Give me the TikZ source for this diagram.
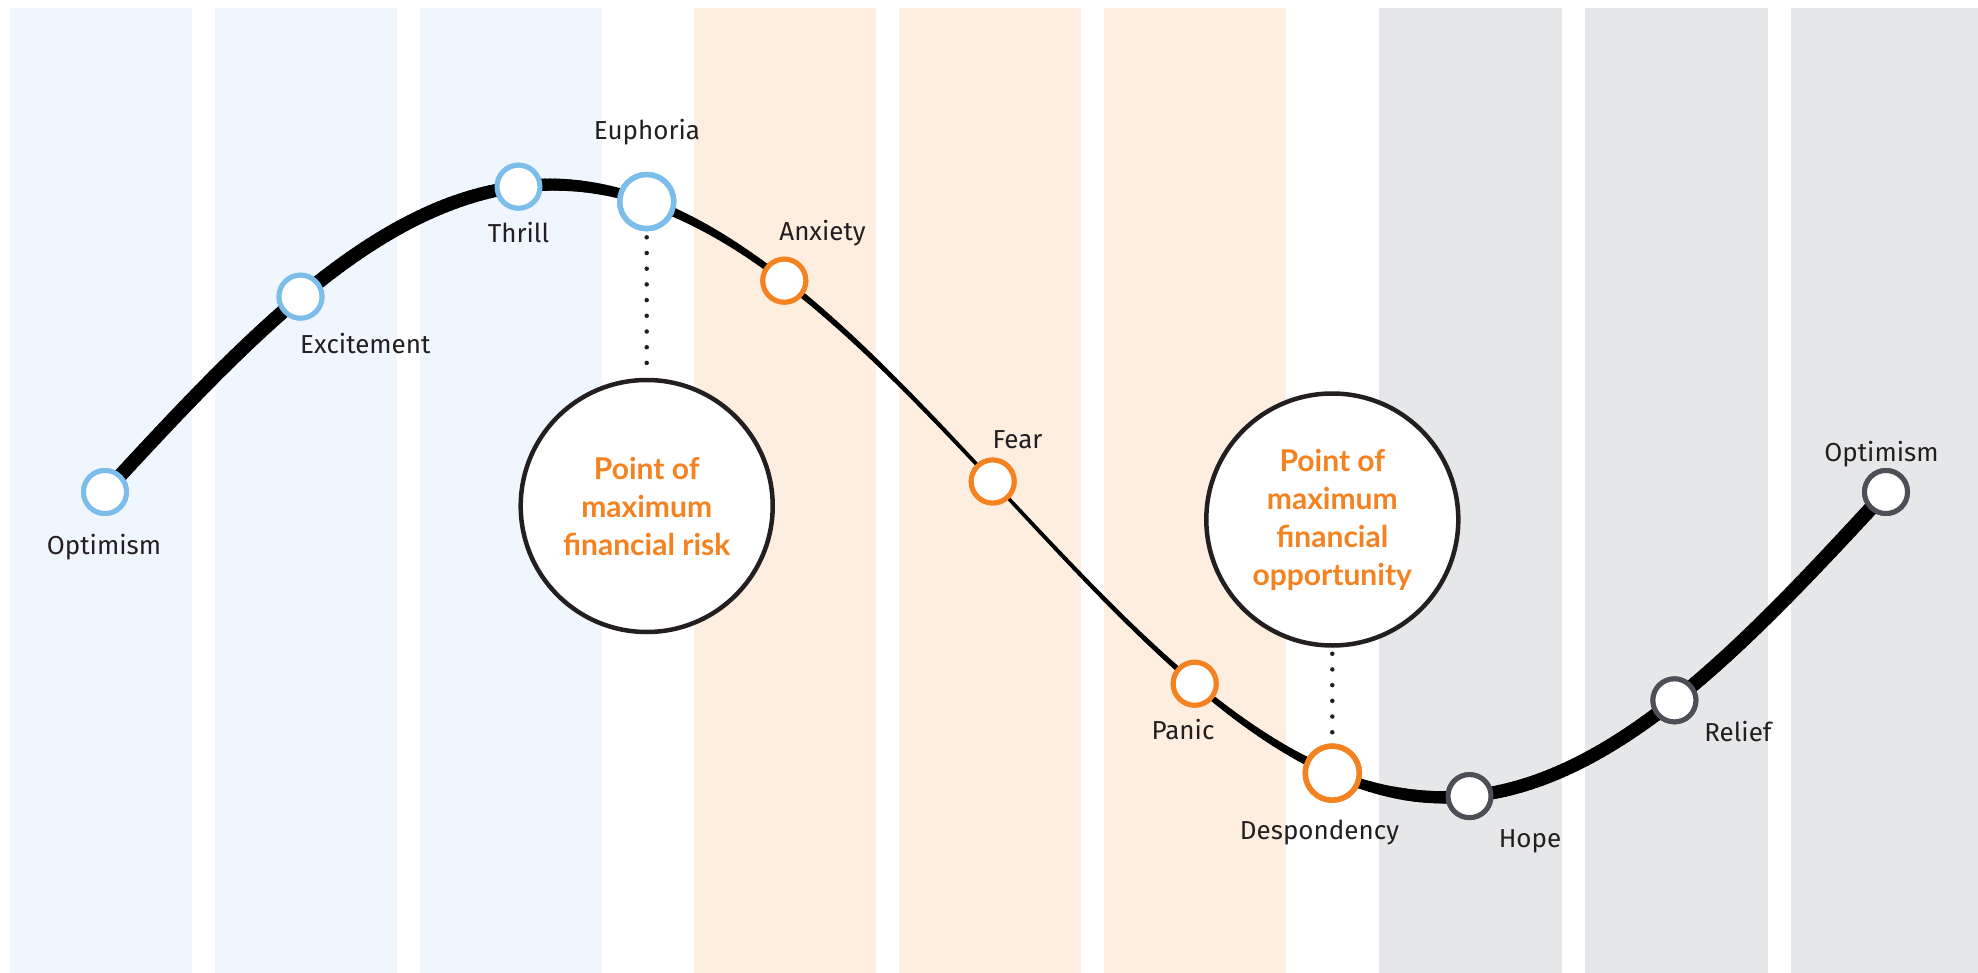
\documentclass[tikz,border=0pt]{standalone}
\usepackage{fontspec}
\setmainfont{Fira Sans}
\newfontfamily\latofont{Lato}
\definecolor{bandblue}{RGB}{240,246,254}
\definecolor{bandorange}{RGB}{253,238,224}
\definecolor{bandgray}{RGB}{230,231,233}
\definecolor{blueC}{RGB}{124,189,233}
\definecolor{orangeC}{RGB}{245,130,32}
\definecolor{grayC}{RGB}{77,79,87}
\definecolor{ink}{RGB}{35,31,32}
\begin{document}
\begin{tikzpicture}[x=1pt,y=-1pt,
  declare function={th(\t)=0.202134*(\t-105); cy(\t)=492-307*sin(th(\t))-8*exp(-((th(\t)-195)/60)*((th(\t)-195)/60));},
  stage/.style={circle, draw, fill=white, line width=5pt, minimum size=43pt, inner sep=0pt},
  bigstage/.style={stage, minimum size=54pt, line width=5.5pt},
  lbl/.style={font=\fontsize{26}{30}\selectfont, text=ink, inner sep=0pt, anchor=base},
  point/.style={circle, draw=ink, fill=white, line width=4.5pt, minimum size=252pt, inner sep=0pt, align=center, text=orangeC, font=\latofont\bfseries\fontsize{30}{38}\selectfont},
  dotline/.style={draw=ink, line width=4.5pt, line cap=round, dash pattern=on 0pt off 15.7pt}]
\useasboundingbox (0,0) rectangle (1978,973);
% background bands
\foreach \xa in {10,215,420}{\fill[bandblue] (\xa,8) rectangle ++(182,965);}
\foreach \xa in {694,899,1104}{\fill[bandorange] (\xa,8) rectangle ++(182,965);}
\foreach \xa in {1379,1585}{\fill[bandgray] (\xa,8) rectangle ++(183,965);}
\fill[bandgray] (1791,8) rectangle (1978,973);
% stage nodes (positions)
\node[stage, draw=blueC] (opt1) at (105,{cy(105)}) {};
\node[stage, draw=blueC] (exc) at (300.5,{cy(300.5)}) {};
\node[stage, draw=blueC] (thr) at (518.5,{cy(518.5)}) {};
\node[bigstage, draw=blueC] (eup) at (646.7,{cy(646.7)}) {};
\node[stage, draw=orangeC] (anx) at (784.3,{cy(784.3)}) {};
\node[stage, draw=orangeC] (fear) at (992.7,{cy(992.7)}) {};
\node[stage, draw=orangeC] (pan) at (1194.7,{cy(1194.7)}) {};
\node[bigstage, draw=orangeC] (desp) at (1332.3,{cy(1332.3)}) {};
\node[stage, draw=grayC] (hope) at (1469.5,{cy(1469.5)}) {};
\node[stage, draw=grayC] (rel) at (1674.4,{cy(1674.4)}) {};
\node[stage, draw=grayC] (opt2) at (1886,{cy(1886)}) {};
% big circles
\node[point] (risk) at (646.7,506) {Point of\\maximum\\financial risk};
\node[point] (opp) at (1332.3,519.5) {Point of\\maximum\\financial\\opportunity};
% dotted links
\draw[dotline, shorten <=6pt] (eup.south) -- (risk.north);
\draw[dotline, shorten <=6pt] (opp.south) -- (desp.north);
% curve with varying width
\foreach \xa/\xb/\wa/\wb in {105/300/14/14, 300/450/14/13.5, 450/560/13.5/12, 560/650/12/9.5, 650/740/9.5/7, 740/800/7/6, 800/900/6/4.5, 900/1000/4.5/3.5, 1000/1130/3.5/4.5, 1130/1200/4.5/5.5, 1200/1300/5.5/8, 1300/1410/8/12, 1410/1500/12/13, 1500/1886/13/14.5}{
  \pgfmathtruncatemacro\n{max(1,(\xb-\xa)/5)}
  \pgfmathsetmacro\st{(\xb-\xa)/\n}
  \pgfmathsetmacro\dw{(\wb-\wa)/\n}
  \foreach \k in {1,...,\n}{
    \pgfmathsetmacro\xs{\xa+\st*(\k-1)}
    \pgfmathsetmacro\xe{\xa+\st*\k}
    \pgfmathsetmacro\wd{\wa+\dw*(\k-0.5)}
    \draw[line width=\wd pt, line cap=round] (\xs,{cy(\xs)}) -- (\xe,{cy(\xe)});
  }
}
% redraw stage circles on top
\foreach \nm/\cc in {opt1/blueC, exc/blueC, thr/blueC, anx/orangeC, fear/orangeC, pan/orangeC, hope/grayC, rel/grayC, opt2/grayC}{
  \draw[\cc, fill=white, line width=5pt] (\nm.center) circle (21.5pt);
}
\draw[blueC, fill=white, line width=5.5pt] (eup.center) circle (27pt);
\draw[orangeC, fill=white, line width=5.5pt] (desp.center) circle (27pt);
% labels
\node[lbl] (l1) at (104,554) {Optimism};
\node[lbl, anchor=base west] (l2) at (300,354) {Excitement};
\node[lbl] (l3) at (518.5,243) {Thrill};
\node[lbl] (l4) at (647,140) {Euphoria};
\node[lbl] (l5) at (822.5,241) {Anxiety};
\node[lbl] (l6) at (1017.5,448) {Fear};
\node[lbl] (l7) at (1183,739) {Panic};
\node[lbl] (l8) at (1319.5,839) {Despondency};
\node[lbl] (l9) at (1530,847) {Hope};
\node[lbl] (l10) at (1738,741) {Relief};
\node[lbl] (l11) at (1881.5,461) {Optimism};
\end{tikzpicture}
\end{document}
